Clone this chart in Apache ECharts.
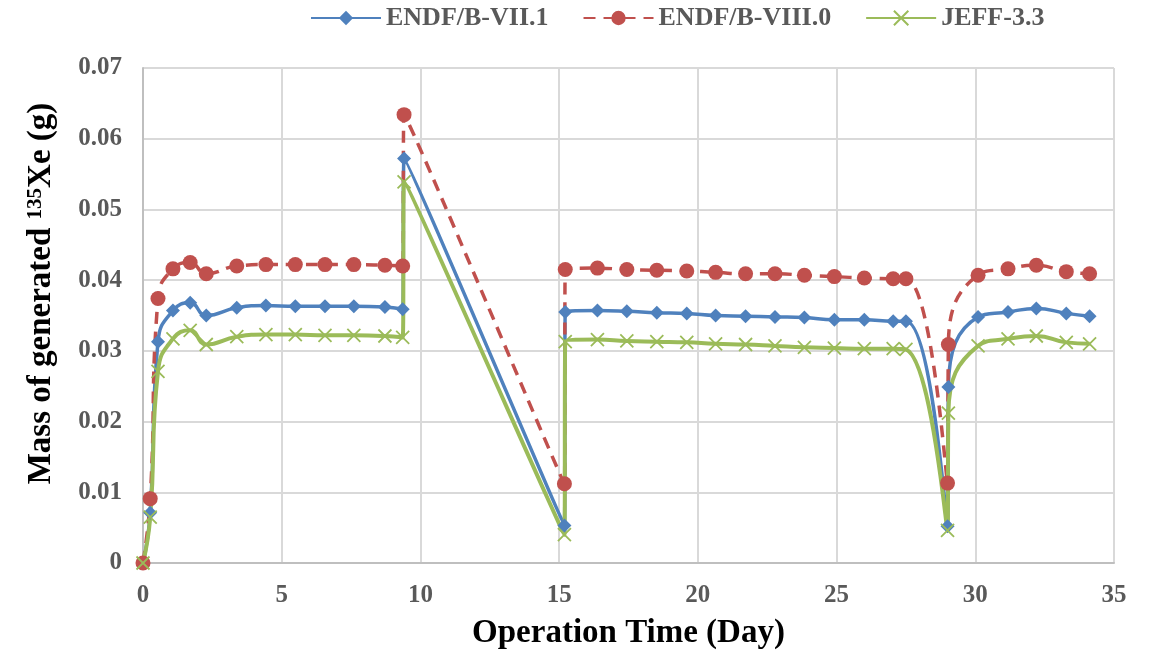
<!DOCTYPE html>
<html>
<head>
<meta charset="utf-8">
<script src="https://cdn.jsdelivr.net/npm/echarts@6/dist/echarts.min.js"></script>
<style>
  html, body { margin: 0; padding: 0; background: #fff; }
  #chart { width: 1158px; height: 655px; }
</style>
</head>
<body>
<div id="chart"></div>
<script>
// Operation time (days) shared by all three libraries
var days = [0, 0.26, 0.54, 1.08, 1.70, 2.28, 3.38, 4.43, 5.49, 6.56, 7.60, 8.72, 9.36, 9.41,
  15.19, 15.22, 16.38, 17.44, 18.52, 19.60, 20.64, 21.72, 22.78, 23.84, 24.92, 26.0, 27.04, 27.5,
  29.0, 29.03, 30.1, 31.18, 32.2, 33.28, 34.12];

// Mass of generated Xe-135 (g)
var endf71 = [0, 0.0071, 0.0313, 0.0357, 0.0368, 0.0350, 0.0361, 0.0364, 0.0363, 0.0363, 0.0363, 0.0362, 0.0359, 0.0572,
  0.0053, 0.0355, 0.0357, 0.0356, 0.0354, 0.0353, 0.0350, 0.0349, 0.0348, 0.0347, 0.0344, 0.0344, 0.0342, 0.0342,
  0.0052, 0.0249, 0.0348, 0.0355, 0.0360, 0.0353, 0.0349];
var endf80 = [0, 0.0091, 0.0374, 0.0416, 0.0425, 0.0409, 0.0420, 0.0422, 0.0422, 0.0422, 0.0422, 0.0421, 0.0420, 0.0634,
  0.0112, 0.0415, 0.0417, 0.0415, 0.0414, 0.0413, 0.0411, 0.0409, 0.0409, 0.0407, 0.0405, 0.0403, 0.0402, 0.0402,
  0.0113, 0.0309, 0.0407, 0.0416, 0.0421, 0.0412, 0.0409];
var jeff33 = [0, 0.0065, 0.0271, 0.0317, 0.0329, 0.0309, 0.0320, 0.0323, 0.0323, 0.0322, 0.0322, 0.0321, 0.0319, 0.0539,
  0.0040, 0.0313, 0.0316, 0.0314, 0.0313, 0.0312, 0.0310, 0.0309, 0.0307, 0.0305, 0.0304, 0.0303, 0.0303, 0.0302,
  0.0046, 0.0212, 0.0307, 0.0317, 0.0321, 0.0312, 0.0310];

var seriesNames = ['ENDF/B-VII.1', 'ENDF/B-VIII.0', 'JEFF-3.3'];
var xTicks = { min: 0, max: 35, interval: 5 };
var yTicks = { min: 0, max: 0.07, interval: 0.01 };

function pairs(vals) {
  return days.map(function (d, i) { return [d, vals[i]]; });
}

var serif = '"Liberation Serif", "Times New Roman", serif';
var chart = echarts.init(document.getElementById('chart'), null, { renderer: 'canvas' });

chart.setOption({
  animation: false,
  backgroundColor: '#ffffff',
  legend: {
    top: 0,
    left: 305,
    itemWidth: 70,
    itemHeight: 18,
    itemGap: 34,
    textStyle: { fontFamily: serif, fontWeight: 'bold', fontSize: 26, color: '#595959' },
    data: seriesNames
  },
  grid: { left: 143, right: 44, top: 68, bottom: 92, containLabel: false },
  xAxis: {
    type: 'value',
    min: xTicks.min, max: xTicks.max, interval: xTicks.interval,
    name: 'Operation Time (Day)',
    nameLocation: 'middle',
    nameGap: 54,
    nameTextStyle: { fontFamily: serif, fontWeight: 'bold', fontSize: 33, color: '#000' },
    axisLine: { show: true, lineStyle: { color: '#bfbfbf', width: 2 } },
    axisTick: { show: false },
    axisLabel: { margin: 20, fontFamily: serif, fontWeight: 'bold', fontSize: 25, color: '#595959' },
    splitLine: { show: true, lineStyle: { color: '#d9d9d9', width: 2 } }
  },
  yAxis: {
    type: 'value',
    min: yTicks.min, max: yTicks.max, interval: yTicks.interval,
    name: '{b|Mass of generated }{s|135}{b|Xe (g)}',
    nameLocation: 'middle',
    nameGap: 85,
    nameRotate: 90,
    nameTextStyle: {
      padding: [0, 0, 0, 44],
      rich: {
        b: { fontFamily: serif, fontWeight: 'bold', fontSize: 33, color: '#000' },
        s: { fontFamily: serif, fontWeight: 'bold', fontSize: 21, color: '#000', verticalAlign: 'top', padding: [0, 0, 12, 0] }
      }
    },
    axisLine: { show: true, lineStyle: { color: '#bfbfbf', width: 2 } },
    axisTick: { show: false },
    axisLabel: {
      margin: 21,
      fontFamily: serif, fontWeight: 'bold', fontSize: 25, color: '#595959',
      formatter: function (v) { return v === 0 ? '0' : v.toFixed(2); }
    },
    splitLine: { show: true, lineStyle: { color: '#d9d9d9', width: 2 } }
  },
  series: [
    {
      name: seriesNames[0], type: 'line', smooth: 0.5,
      data: pairs(endf71),
      symbol: 'diamond', symbolSize: 14,
      lineStyle: { color: '#4f81bd', width: 3.5 },
      itemStyle: { color: '#4f81bd' }
    },
    {
      name: seriesNames[1], type: 'line', smooth: 0.5,
      data: pairs(endf80),
      symbol: 'circle', symbolSize: 15,
      lineStyle: { color: '#c0504d', width: 3.5, type: [12, 8] },
      itemStyle: { color: '#c0504d' }
    },
    {
      name: seriesNames[2], type: 'line', smooth: 0.5,
      data: pairs(jeff33),
      symbol: 'path://M0,0 L10,10 M10,0 L0,10', symbolSize: 13,
      lineStyle: { color: '#9bbb59', width: 4 },
      itemStyle: { color: 'none', borderColor: '#9bbb59', borderWidth: 1.8 }
    }
  ]
});
</script>
</body>
</html>
